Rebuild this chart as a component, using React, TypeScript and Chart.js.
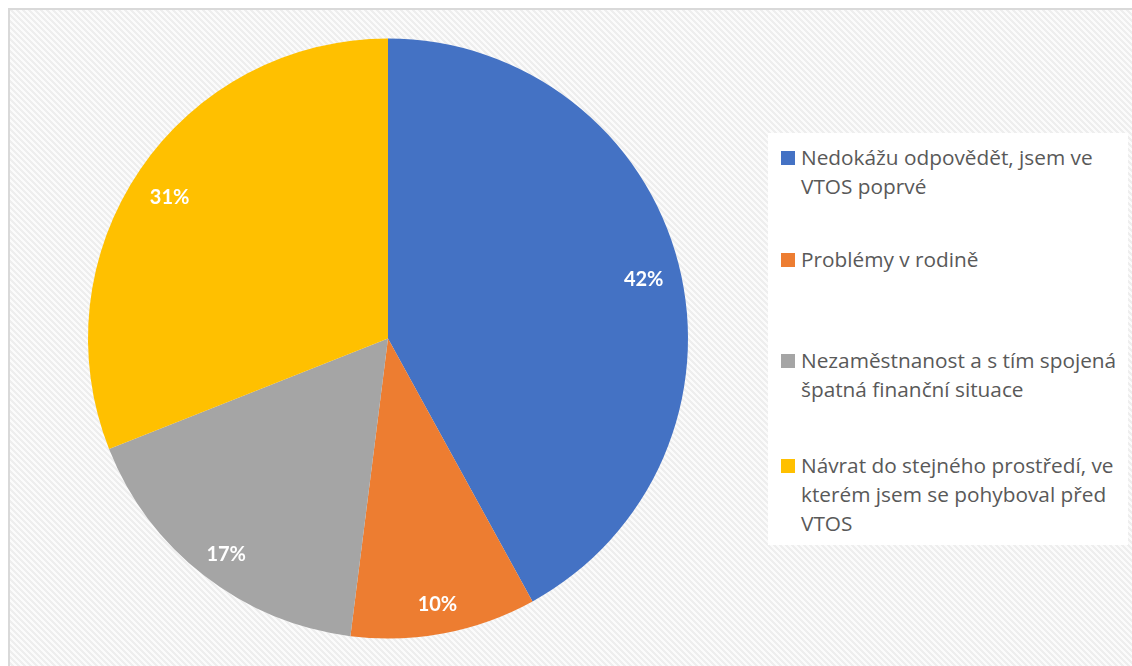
import React, { useEffect, useRef } from "react";
import { Chart, registerables } from "chart.js";

Chart.register(...registerables);

const categories = [
  "Nedokážu odpovědět, jsem ve VTOS poprvé",
  "Problémy v rodině",
  "Nezaměstnanost a s tím spojená špatná finanční situace",
  "Návrat do stejného prostředí, ve kterém jsem se pohyboval před VTOS",
];
const legendLines = [
  ["Nedokážu odpovědět, jsem ve", "VTOS poprvé"],
  ["Problémy v rodině"],
  ["Nezaměstnanost a s tím spojená", "špatná finanční situace"],
  ["Návrat do stejného prostředí, ve", "kterém jsem se pohyboval před", "VTOS"],
];
const shares = [42, 10, 17, 31];
const colors = ["#4472C4", "#ED7D31", "#A5A5A5", "#FFC000"];
const legendCenters = [158, 260, 361, 466];

const LABEL_FONT = "Lato, 'Open Sans', sans-serif";
const LEGEND_FONT = "'Open Sans', Lato, sans-serif";

function makePattern(ctx: CanvasRenderingContext2D) {
  const size = 6;
  const c = document.createElement("canvas");
  c.width = size;
  c.height = size;
  const cx = c.getContext("2d")!;
  const img = cx.createImageData(size, size);
  for (let y = 0; y < size; y++) {
    for (let x = 0; x < size; x++) {
      const k = (((x - y) % size) + size) % size;
      const v = k < 3 ? 238 : 251;
      const i = (y * size + x) * 4;
      img.data[i] = v;
      img.data[i + 1] = v;
      img.data[i + 2] = v;
      img.data[i + 3] = 255;
    }
  }
  cx.putImageData(img, 0, 0);
  return ctx.createPattern(c, "repeat");
}

export default function App() {
  const ref = useRef<HTMLCanvasElement>(null);
  useEffect(() => {
    const canvas = ref.current!;
    const bgPlugin = {
      id: "bgPattern",
      beforeDraw(chart: any) {
        const ctx = chart.ctx as CanvasRenderingContext2D;
        ctx.save();
        ctx.fillStyle = "#ffffff";
        ctx.fillRect(0, 0, chart.width, chart.height);
        const p = makePattern(ctx);
        if (p) ctx.fillStyle = p;
        ctx.fillRect(10, 10, chart.width - 10, chart.height - 10);
        ctx.restore();
      },
    };
    const labelPlugin = {
      id: "pctLabels",
      afterDatasetsDraw(chart: any) {
        const ctx = chart.ctx as CanvasRenderingContext2D;
        const meta = chart.getDatasetMeta(0);
        const data = chart.data.datasets[0].data as number[];
        const total = data.reduce((a, b) => a + b, 0);
        ctx.save();
        ctx.fillStyle = "#ffffff";
        ctx.font = `bold 20px ${LABEL_FONT}`;
        ctx.textAlign = "center";
        ctx.textBaseline = "middle";
        meta.data.forEach((arc: any, i: number) => {
          const { x, y, startAngle, endAngle, outerRadius } = arc.getProps(
            ["x", "y", "startAngle", "endAngle", "outerRadius"],
            true
          );
          const mid = (startAngle + endAngle) / 2;
          const r = outerRadius * 0.88;
          const pct = Math.round((data[i] / total) * 100);
          ctx.fillText(pct + "%", x + Math.cos(mid) * r, y + Math.sin(mid) * r + 7);
        });
        ctx.restore();
      },
    };
    const chart = new Chart(canvas, {
      type: "pie",
      data: {
        labels: categories,
        datasets: [
          {
            data: shares,
            backgroundColor: colors,
            borderWidth: 0,
          },
        ],
      },
      options: {
        animation: false,
        responsive: true,
        maintainAspectRatio: false,
        layout: { padding: { left: 88, right: 444, top: 38, bottom: 27 } },
        plugins: {
          legend: { display: false },
          tooltip: { enabled: false },
        },
      },
      plugins: [bgPlugin, labelPlugin],
    });
    return () => chart.destroy();
  }, []);

  return (
    <div style={{ position: "absolute", left: 0, top: 0, width: 1132, height: 666, overflow: "hidden" }}>
      <canvas ref={ref} style={{ position: "absolute", left: 0, top: 0, width: 1132, height: 666 }} />
      <div
        style={{
          position: "absolute",
          left: 8,
          top: 8,
          width: 1124,
          height: 658,
          borderLeft: "2px solid #d9d9d9",
          borderTop: "2px solid #d9d9d9",
          boxSizing: "border-box",
          pointerEvents: "none",
        }}
      />
      <div
        style={{
          position: "absolute",
          left: 768,
          top: 133,
          width: 360,
          height: 412,
          background: "#ffffff",
          fontFamily: LEGEND_FONT,
          fontSize: 20.8,
          color: "#595959",
        }}
      >
        {legendLines.map((lines, i) => (
          <div key={i} style={{ position: "absolute", left: 0, top: legendCenters[i] - 133 - 15, width: 360 }}>
            <div
              style={{
                position: "absolute",
                left: 13,
                top: 8,
                width: 14,
                height: 14,
                background: colors[i],
              }}
            />
            <div style={{ position: "absolute", left: 33, top: 0, lineHeight: "29px", whiteSpace: "nowrap" }}>
              {lines.map((l, j) => (
                <div key={j}>{l}</div>
              ))}
            </div>
          </div>
        ))}
      </div>
    </div>
  );
}
